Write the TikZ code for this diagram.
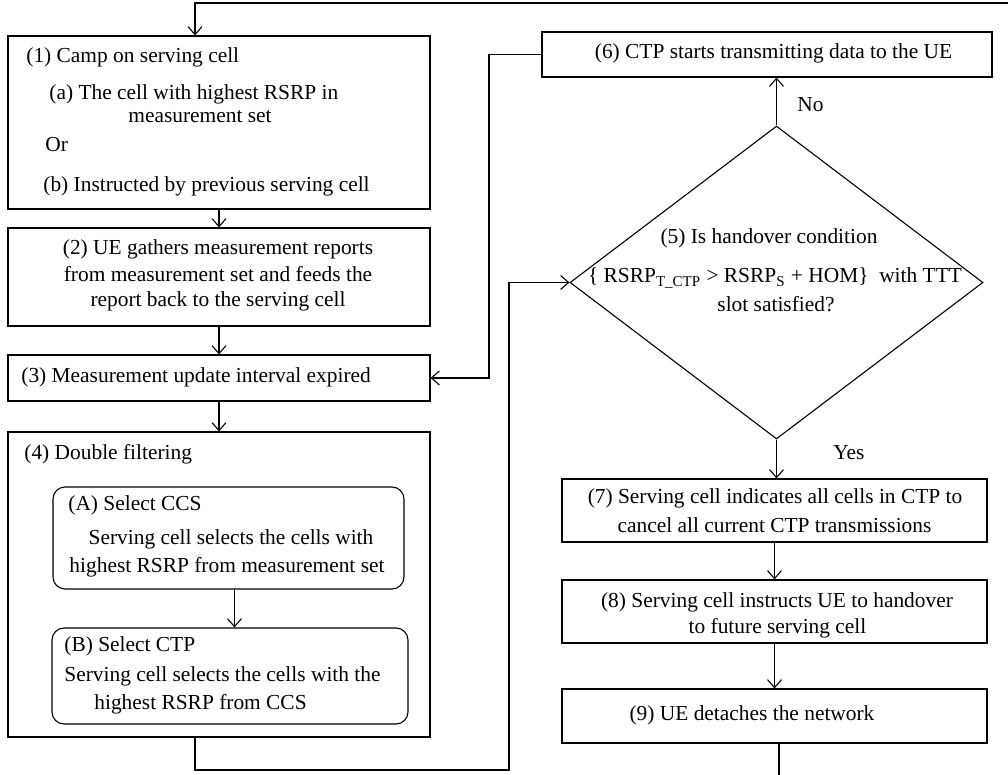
\documentclass[tikz,border=0pt]{standalone}
\usepackage{fontspec}
\setmainfont{Liberation Serif}
\usetikzlibrary{shapes.geometric,arrows.meta}
\tikzset{
  stepbox/.style={draw, line width=0.55pt, inner sep=0pt},
  subbox/.style={stepbox, rounded corners=6pt},
  txt/.style={anchor=base west, inner sep=0pt},
  ctxt/.style={anchor=base, inner sep=0pt},
  flow/.style={line width=0.55pt, -{Straight Barb[length=4pt,width=7pt]}},
  wire/.style={line width=0.55pt}
}

\begin{document}
\begin{tikzpicture}[x=0.5pt, y=-0.5pt, font=\fontsize{10.7}{13}\selectfont]
\useasboundingbox (0,0) rectangle (1008,775);

% left column
\node[stepbox, minimum width=211pt, minimum height=86.5pt] (s1) at (219,122.5) {};
\node[stepbox, minimum width=211pt, minimum height=49pt] (s2) at (219,277) {};
\node[stepbox, minimum width=211pt, minimum height=23pt] (s3) at (219,378) {};
\node[stepbox, minimum width=211pt, minimum height=152.5pt] (s4) at (219,584.5) {};
\node[subbox, minimum width=175.5pt, minimum height=51pt] (sA) at (228.5,538) {};
\node[subbox, minimum width=178pt, minimum height=48pt] (sB) at (230,676) {};

\node[txt] (t1) at (26,63) {(1) Camp on serving cell};
\node[txt] (t1a) at (49,100) {(a) The cell with highest RSRP in};
\node[ctxt] (t1aa) at (200,123) {measurement set};
\node[txt] (t1or) at (45,152) {Or};
\node[txt] (t1b) at (43,192) {(b) Instructed by previous serving cell};

\node[ctxt] (t2a) at (218,255) {(2) UE gathers measurement reports};
\node[ctxt] (t2b) at (218,282) {from measurement set and feeds the};
\node[ctxt] (t2c) at (218,307) {report back to the serving cell};

\node[txt] (t3) at (21,383) {(3) Measurement update interval expired};
\node[txt] (t4) at (24,460) {(4) Double filtering};

\node[txt] (tA) at (68,510) {(A) Select CCS};
\node[ctxt] (tAa) at (231,545) {Serving cell selects the cells with};
\node[ctxt] (tAb) at (227,573) {highest RSRP from measurement set};

\node[txt] (tB) at (64,651) {(B) Select CTP};
\node[txt] (tBa) at (64,682) {Serving cell selects the cells with the};
\node[txt] (tBb) at (94,709) {highest RSRP from CCS};

% right column
\node[stepbox, minimum width=225pt, minimum height=22.5pt] (s6) at (767,54.5) {};
\node[stepbox, shape=diamond, minimum width=206.5pt, minimum height=156.5pt] (s5) at (776.5,282.5) {};
\node[stepbox, minimum width=212.5pt, minimum height=31.5pt] (s7) at (774.5,510.5) {};
\node[stepbox, minimum width=212.5pt, minimum height=31.5pt] (s8) at (774.5,611.5) {};
\node[stepbox, minimum width=212.5pt, minimum height=27pt] (s9) at (774.5,716) {};

\node[ctxt] (t6) at (773.5,59) {(6) CTP starts transmitting data to the UE};
\node[ctxt] (t5a) at (769,244) {(5) Is handover condition};
\node[ctxt] (t5b) at (775,283) {\{ RSRP\textsubscript{T\_CTP} > RSRP\textsubscript{S} + HOM\}\ \ with TTT};
\node[ctxt] (t5c) at (776,312) {slot satisfied?};
\node[ctxt] (t7a) at (775,503) {(7) Serving cell indicates all cells in CTP to};
\node[ctxt] (t7b) at (774.5,532) {cancel all current CTP transmissions};
\node[ctxt] (t8a) at (777,607) {(8) Serving cell instructs UE to handover};
\node[ctxt] (t8b) at (777.5,633) {to future serving cell};
\node[ctxt] (t9) at (752,720) {(9) UE detaches the network};

\node[txt] (no) at (797,112) {No};
\node[txt] (yes) at (833,459) {Yes};

% connectors
\coordinate (loopin) at (1008,3);
\coordinate (loopout) at (779,775);
\draw[flow] (loopin) -| ([xshift=-12pt]s1.north);
\draw[flow] (s1) -- (s2);
\draw[flow] (s2) -- (s3);
\draw[flow] (s3) -- (s4);
\draw[flow] ([xshift=3pt]sA.south) -- ([xshift=3pt]sA.south |- sB.north);
\draw[flow] ([xshift=-12pt]s4.south) |- (509,770) |- (s5.west);
\draw[flow] (s6.west) -| (489,378) -- (s3.east);
\draw[flow] (s5.north) -- (s5.north |- s6.south);
\draw[flow] (s5.south) -- (s5.south |- s7.north);
\draw[flow] (s7) -- (s8);
\draw[flow] (s8) -- (s9);
\draw[wire] (s9.south -| loopout) -- (loopout);

\end{tikzpicture}
\end{document}
